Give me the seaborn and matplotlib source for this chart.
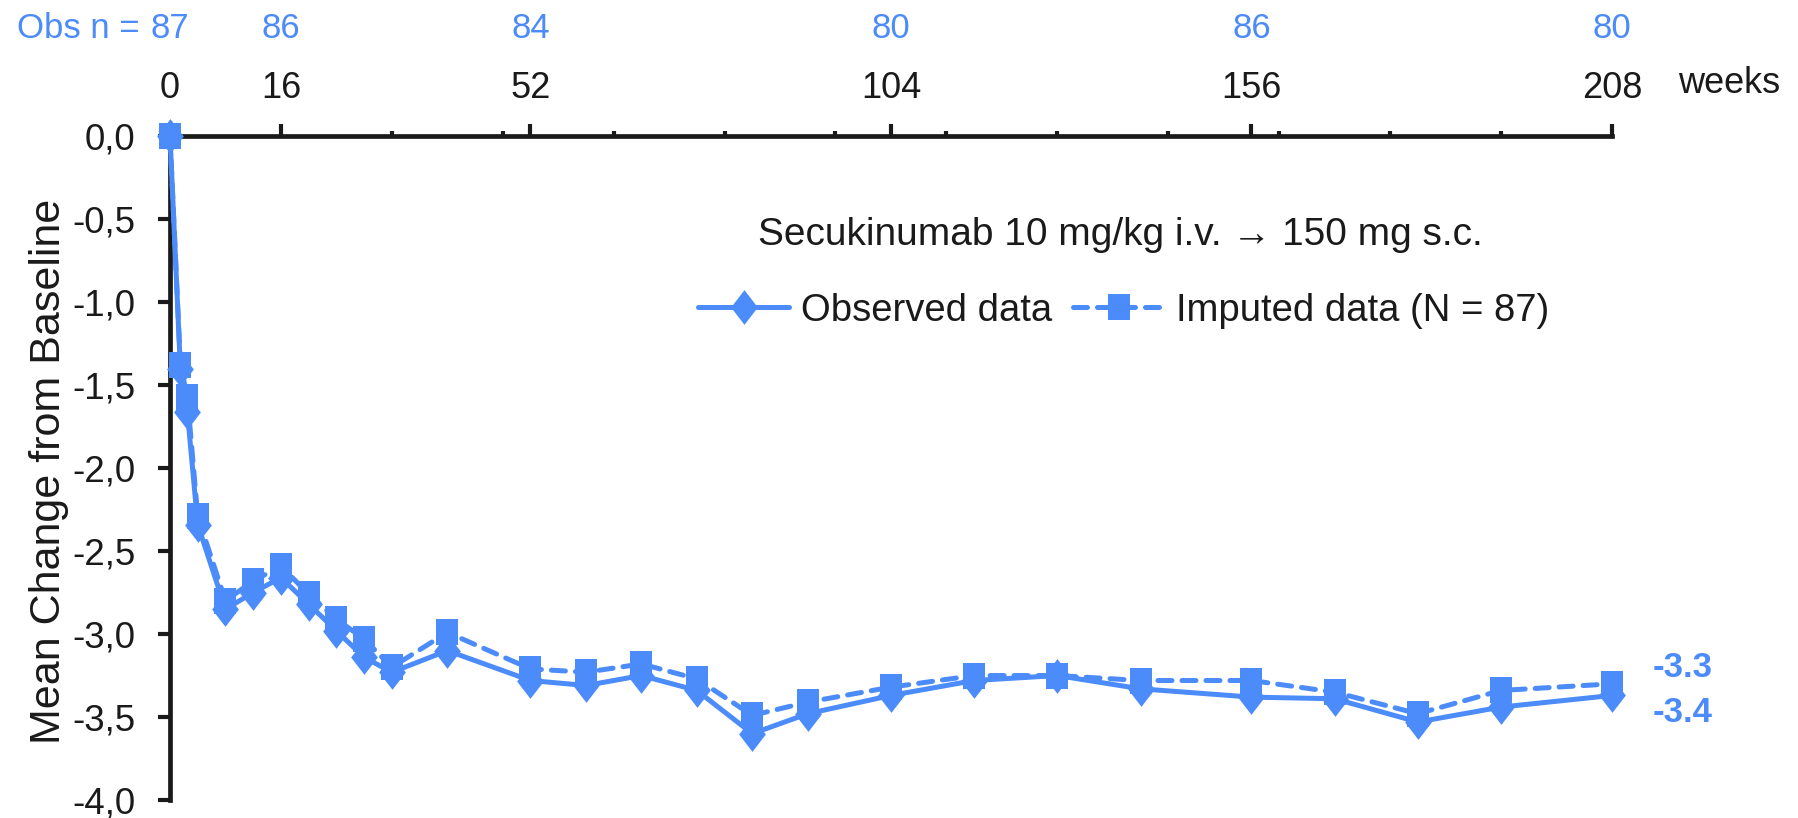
import matplotlib
matplotlib.use("Agg")
import matplotlib.pyplot as plt
import matplotlib.transforms as mtransforms
import seaborn as sns
import numpy as np
import pandas as pd

# ---- data ----
weeks = [0, 1.5, 2.5, 4, 8, 12, 16, 20, 24, 28, 32, 40, 52, 60, 68, 76, 84, 92,
         104, 116, 128, 140, 156, 168, 180, 192, 208]
observed = [0.0, -1.40, -1.66, -2.34, -2.85, -2.75, -2.66, -2.82, -2.98, -3.14,
            -3.23, -3.10, -3.28, -3.31, -3.25, -3.34, -3.60, -3.48, -3.37, -3.28,
            -3.25, -3.33, -3.38, -3.39, -3.53, -3.44, -3.37]
imputed = [0.0, -1.38, -1.57, -2.29, -2.80, -2.68, -2.59, -2.76, -2.91, -3.03,
           -3.20, -2.99, -3.21, -3.23, -3.18, -3.27, -3.49, -3.41, -3.32, -3.25,
           -3.25, -3.28, -3.28, -3.35, -3.48, -3.34, -3.30]
major_weeks = [0, 16, 52, 104, 156, 208]
minor_weeks = [32, 48, 64, 80, 96, 112, 128, 144, 160, 176, 192]
obs_n = [87, 86, 84, 80, 86, 80]
y_ticks = [0.0, -0.5, -1.0, -1.5, -2.0, -2.5, -3.0, -3.5, -4.0]
y_tick_labels = ["0,0", "-0,5", "-1,0", "-1,5", "-2,0", "-2,5", "-3,0", "-3,5", "-4,0"]
end_labels = ["-3.3", "-3.4"]
series_names = ["Observed data", "Imputed data (N = 87)"]
legend_title = "Secukinumab 10 mg/kg i.v. \u2192 150 mg s.c."
y_title = "Mean Change from Baseline"

BLUE = "#4C8BFA"
INK = "#1a1a1a"

sns.set_theme(style="white")
plt.rcParams["font.family"] = ["Liberation Sans", "DejaVu Sans"]

fig = plt.figure(figsize=(17.99, 8.18), dpi=100)
ax = fig.add_axes([0.0945, 0.022, 0.8015, 0.8115])

diamond = [(0, 1), (0.77, 0), (0, -1), (-0.77, 0), (0, 1)]
square = [(-0.85, -1), (0.85, -1), (0.85, 1), (-0.85, 1), (-0.85, -1)]

df = pd.DataFrame({"week": weeks, "obs": observed, "imp": imputed})
sns.lineplot(data=df, x="week", y="obs", ax=ax, color=BLUE, linewidth=3.6,
             marker=diamond, markersize=25, markeredgewidth=0,
             label=series_names[0], clip_on=False, zorder=3)
sns.lineplot(data=df, x="week", y="imp", ax=ax, color=BLUE, linewidth=3.6,
             linestyle=(0, (2.8, 2.0)), dash_capstyle="round", marker=square,
             markersize=18.5, markeredgewidth=0, label=series_names[1],
             clip_on=False, zorder=4)

ax.set_xlim(0, 208)
ax.set_ylim(-4.0, 0.0)

# spines
for s in ["right", "bottom"]:
    ax.spines[s].set_visible(False)
for s in ["top", "left"]:
    ax.spines[s].set_linewidth(3.4)
    ax.spines[s].set_color(INK)
    ax.spines[s].set_zorder(2)

# x axis on top
ax.xaxis.tick_top()
ax.set_xticks(major_weeks)
ax.set_xticklabels([str(w) for w in major_weeks])
ax.set_xticks(minor_weeks, minor=True)
ax.tick_params(axis="x", which="major", direction="out", length=9, width=3,
               pad=13, labelsize=26, colors=INK)
ax.tick_params(axis="x", which="minor", direction="out", length=3.5, width=3,
               colors=INK)
ax.set_xlabel("")

ax.set_yticks(y_ticks)
ax.set_yticklabels(y_tick_labels)
ax.tick_params(axis="y", which="major", direction="out", length=9, width=3,
               pad=16, labelsize=26.5, colors=INK, left=True)
ax.set_ylabel(y_title, fontsize=31, color=INK)
ax.yaxis.set_label_coords(-0.070, 0.495)

# week label and observed n row
ax.text(1.081, 1.079, "weeks", transform=ax.transAxes, ha="center", va="center",
        fontsize=26, color=INK)
trans = mtransforms.blended_transform_factory(ax.transData, ax.transAxes)
for w, n in zip(major_weeks, obs_n):
    ax.text(w, 1.162, str(n), transform=trans, ha="center", va="center",
            fontsize=25, color=BLUE)
ax.annotate("Obs n =", xy=(0, 1.162), xycoords=trans, xytext=(-22, 0),
            textcoords="offset points", ha="right", va="center",
            fontsize=25, color=BLUE)

# end labels
ax.annotate(end_labels[0], xy=(weeks[-1], imputed[-1]), xytext=(29, 12),
            textcoords="offset points", ha="left", va="center", fontsize=25,
            fontweight="bold", color=BLUE, annotation_clip=False)
ax.annotate(end_labels[1], xy=(weeks[-1], observed[-1]), xytext=(29, -12),
            textcoords="offset points", ha="left", va="center", fontsize=25,
            fontweight="bold", color=BLUE, annotation_clip=False)

# legend title as a header line, then the two entries
ax.text(0.659, 0.8365, legend_title, transform=ax.transAxes, ha="center",
        va="baseline", fontsize=28, color=INK)
leg = ax.legend(ncol=2, frameon=False, loc="center left",
                bbox_to_anchor=(0.366, 0.737), fontsize=27.5, borderpad=0,
                borderaxespad=0, handlelength=2.4, columnspacing=0.55,
                handletextpad=0.3)
for t in leg.get_texts():
    t.set_color(INK)

fig.savefig("out.png", dpi=100)
